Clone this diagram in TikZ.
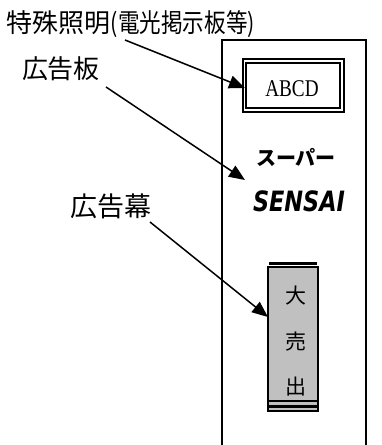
\documentclass[tikz,border=0pt]{standalone}
\usepackage{fontspec}
\usepackage{graphicx}
\usetikzlibrary{arrows.meta}
\newfontfamily\cjk{Noto Sans CJK JP}
\newfontfamily\serifr{Liberation Serif}
\newfontfamily\sansb{DejaVu Sans}
\begin{document}
\begin{tikzpicture}[x=1pt,y=-1pt,
  wall/.style={line width=1.3pt},
  lbl/.style={font=\cjk\fontsize{26}{26}\selectfont, inner sep=0pt},
  pointer/.style={line width=1.5pt, -{Triangle[length=16pt,width=13pt]}},
  thin/.style={line width=1.2pt}]
\useasboundingbox (0,0) rectangle (382,445);
% building
\draw[wall] (222,445) -- (222,40) -- (366,40) -- (366,445);
% ABCD sign
\draw[thin] (243,59) rectangle (344,112);
\draw[thin] (246,63) rectangle (340,108);
\node (abcd) at (292,89) {\serifr\fontsize{24}{24}\selectfont\scalebox{0.8}[1]{ABCD}};
% texts on wall
\node[inner sep=0pt] (super) at (296,157) {\cjk\bfseries\fontsize{20}{20}\selectfont スーパー};
\node[inner sep=0pt] (sensai) at (299,201) {\sansb\bfseries\itshape\fontsize{28}{28}\selectfont\scalebox{0.8}[1]{SENSAI}};
% banner
\node[draw, thin, fill={rgb,255:red,192;green,192;blue,192}, minimum width=50pt, minimum height=144pt, inner sep=0pt] (banner) at (293,339) {};
\draw[line width=3pt] (269,263.5) -- (317,263.5);
\draw[line width=2.5pt] (268,401) -- (318,401);
\draw[line width=2.5pt] (268,406.5) -- (318,406.5);
\node[font=\cjk\fontsize{21}{21}\selectfont, inner sep=0pt] (c1) at (296,296) {大};
\node[font=\cjk\fontsize{21}{21}\selectfont, inner sep=0pt] (c2) at (296,342) {売};
\node[font=\cjk\fontsize{21}{21}\selectfont, inner sep=0pt] (c3) at (296,387) {出};
% labels
\node[lbl] (t1) at (131,24) {特殊照明\scalebox{0.83}[1]{(電光掲示板等)}};
\node[lbl] (t2) at (61,69) {広告板};
\node[lbl, font=\cjk\fontsize{27}{27}\selectfont] (t3) at (111,206) {広告幕};
% arrows
\coordinate (s1) at (125,40);
\coordinate (e1) at (245,88);
\coordinate (s2) at (106,87);
\coordinate (e2) at (245,180);
\coordinate (s3) at (150,222);
\coordinate (e3) at (268,317);
\draw[pointer] (s1) -- (e1);
\draw[pointer] (s2) -- (e2);
\draw[pointer] (s3) -- (e3);
\end{tikzpicture}
\end{document}
